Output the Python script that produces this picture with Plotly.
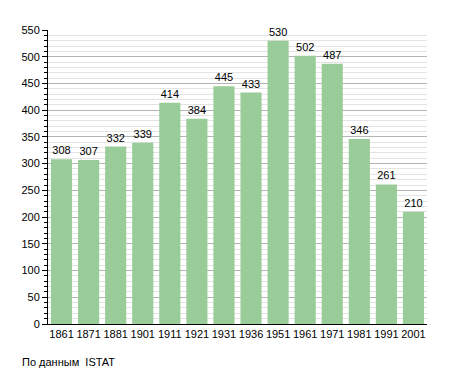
import plotly.graph_objects as go

years = ["1861", "1871", "1881", "1901", "1911", "1921", "1931", "1936",
         "1951", "1961", "1971", "1981", "1991", "2001"]
population = [308, 307, 332, 339, 414, 384, 445, 433, 530, 502, 487, 346, 261, 210]
y_ticks = [0, 50, 100, 150, 200, 250, 300, 350, 400, 450, 500, 550]
source_note = "По данным  ISTAT"

# page body has an 8px margin, so the figure is offset by 8px
OFF = 8
W, H = 455 - OFF, 373 - OFF
L, T = 48 - OFF, 30 - OFF
R, B = 455 - 427, 373 - 324
plot_h = H - T - B

fig = go.Figure(go.Bar(
    x=years,
    y=population,
    marker=dict(color="#99cc99", line=dict(width=0)),
    text=[str(v) for v in population],
    textposition="outside",
    textfont=dict(size=11, color="black", family="Liberation Sans, Arial, sans-serif"),
    cliponaxis=False,
))

fig.update_layout(
    width=W, height=H,
    margin=dict(l=L, r=R, t=T, b=B),
    paper_bgcolor="white", plot_bgcolor="white",
    font=dict(family="Liberation Sans, Arial, sans-serif", size=11, color="black"),
    bargap=0.22,
    showlegend=False,
    xaxis=dict(
        type="category",
        showline=True, linecolor="black", linewidth=1,
        showgrid=False, ticks="", tickfont=dict(size=11),
    ),
    yaxis=dict(
        range=[0, 550],
        tickvals=y_ticks,
        showline=True, linecolor="black", linewidth=1,
        ticks="outside", ticklen=5, tickcolor="black",
        showgrid=True, gridcolor="#b4b4b4", gridwidth=1,
        zeroline=False,
        tickfont=dict(size=11),
        minor=dict(dtick=10, ticks="outside", ticklen=3, tickcolor="black",
                   showgrid=True, gridcolor="#e4e4e4", gridwidth=1),
    ),
    annotations=[dict(
        text=source_note, xref="paper", yref="paper",
        x=(20 - 48) / (W - L - R), y=(324 - 362) / plot_h,
        xanchor="left", yanchor="middle", showarrow=False,
        font=dict(size=11, color="black"),
    )],
)

fig.write_html("out.html")
